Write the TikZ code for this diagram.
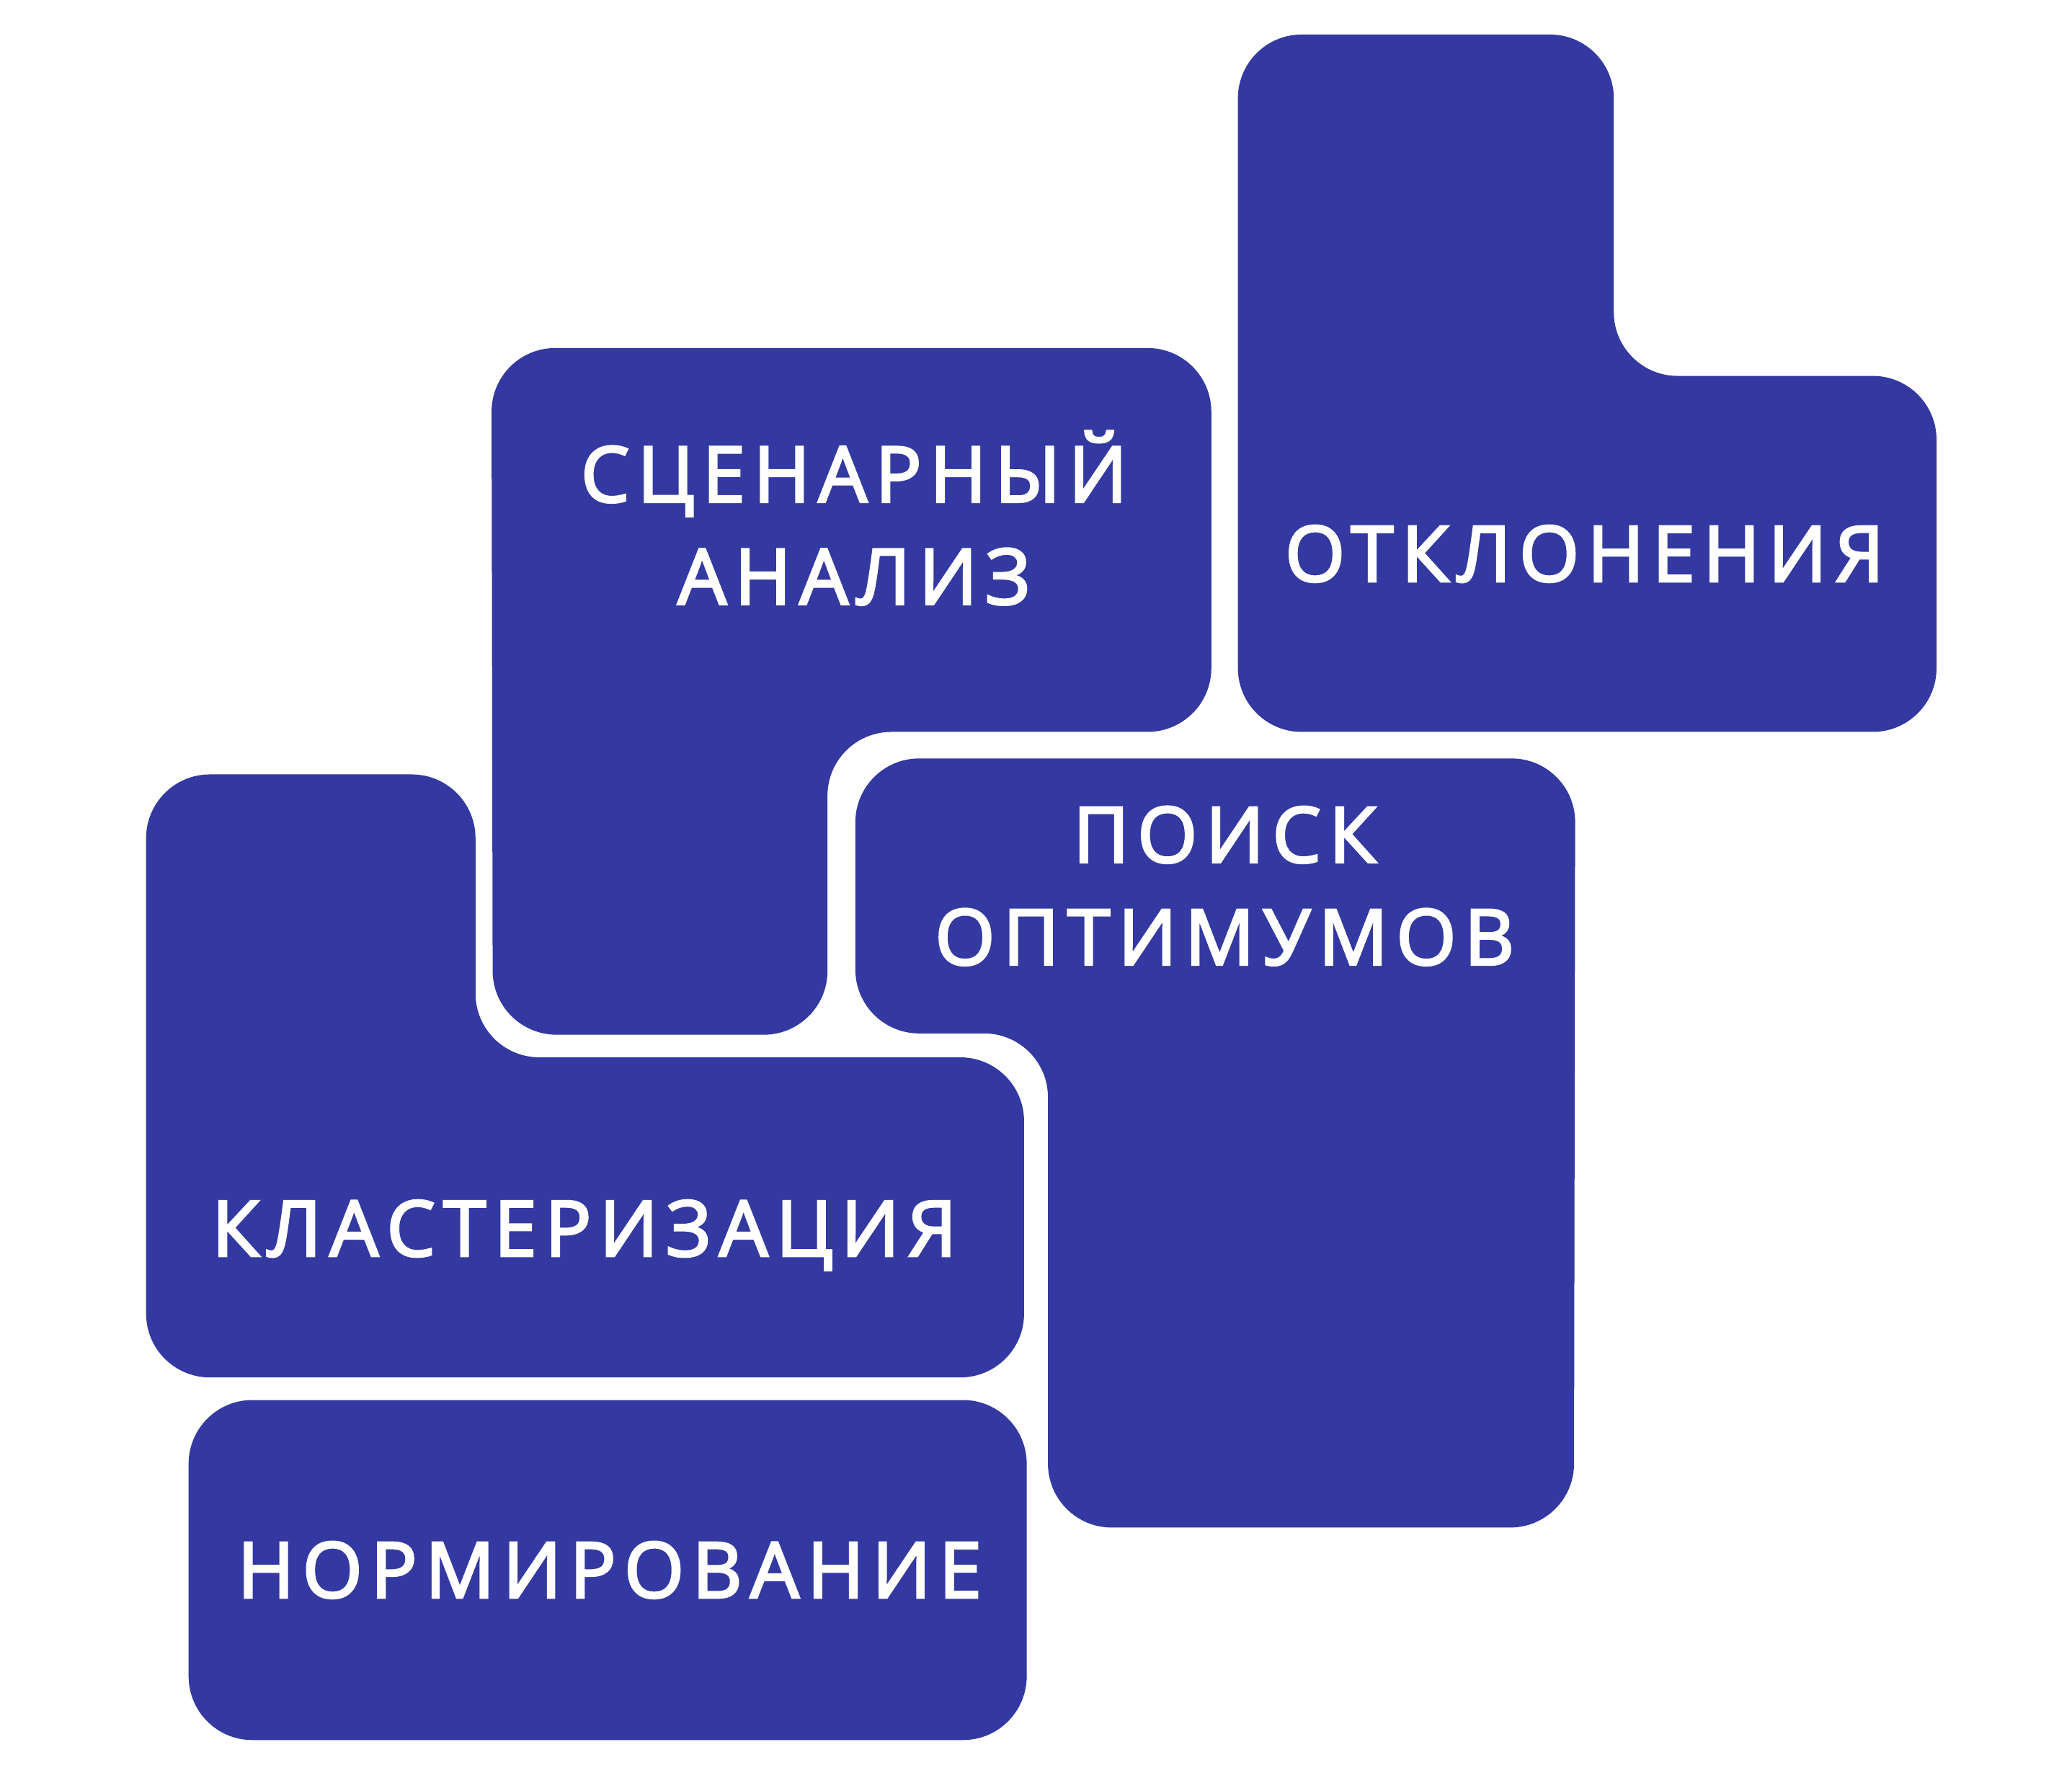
\documentclass[tikz,border=0pt]{standalone}
\usepackage{fontspec}
\setmainfont[LetterSpace=10.5,FakeBold=3]{Open Sans}
\usepackage{tikz}
\definecolor{tileblue}{RGB}{51,57,160}

\begin{document}
\begin{tikzpicture}[x=.01cm,y=-.01cm,
  tile/.style={fill=tileblue, rounded corners=.48cm},
  label/.style={text=white, font=\fontsize{16.5}{21.9}\selectfont, align=center}]
\useasboundingbox (0,0) rectangle (1560,1334.3);
\path [tile] (932,26) -- (1215,26) -- (1215,283) -- (1458,283) -- (1458,551) -- (932,551) -- cycle;
\path [tile] (370,262) -- (912,262) -- (912,551) -- (623,551) -- (623,779) -- (371,779) -- cycle;
\path [tile] (644,571) -- (1186,571) -- (1185,1150) -- (789,1150) -- (789,778) -- (644,778) -- cycle;
\path [tile] (110,583) -- (358,583) -- (358,796) -- (771,796) -- (771,1037) -- (110,1037) -- cycle;
\path [tile] (142,1054) rectangle (773,1310);
\node [label] (scen) at (643,390) {СЦЕНАРНЫЙ\\АНАЛИЗ};
\node [label] (otkl) at (1193,417) {ОТКЛОНЕНИЯ};
\node [label] (poisk) at (922,667) {ПОИСК\\ОПТИМУМОВ};
\node [label] (klast) at (440,930) {КЛАСТЕРИЗАЦИЯ};
\node [label] (norm) at (459,1182) {НОРМИРОВАНИЕ};
\end{tikzpicture}
\end{document}
